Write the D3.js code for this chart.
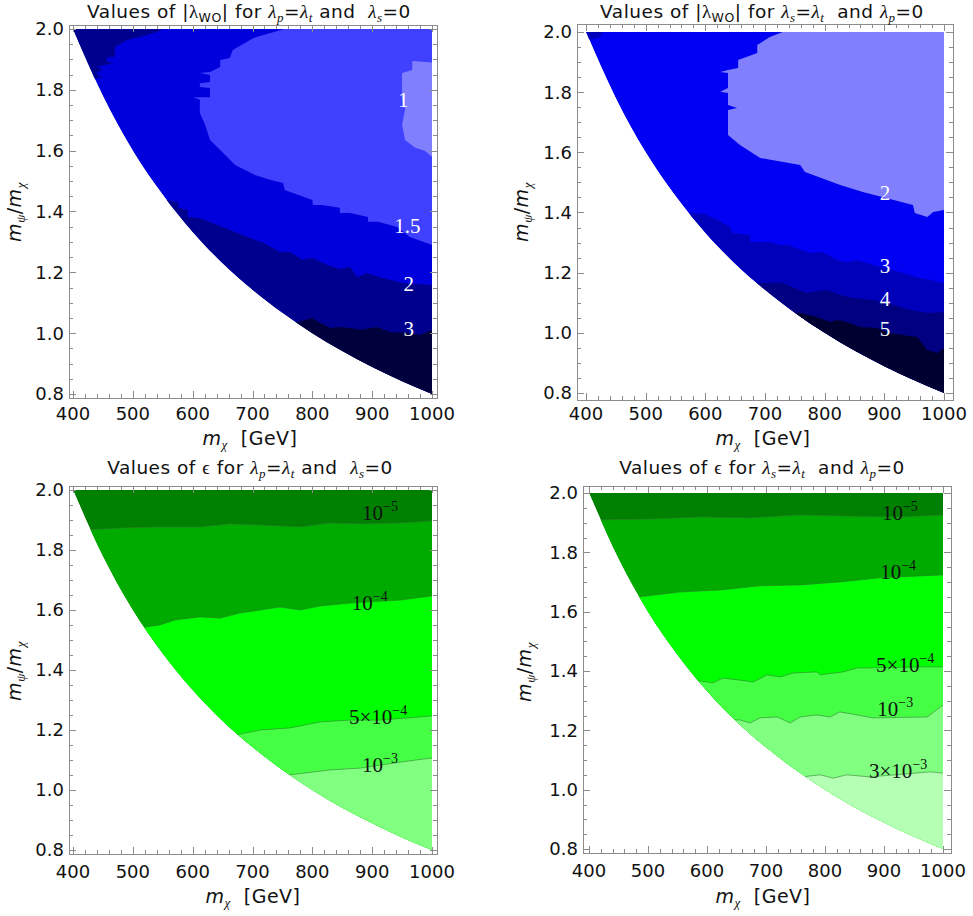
<!DOCTYPE html>
<html>
  <head>
    <meta charset="utf-8">
    <title>Coupling and epsilon contours</title>
    <script src="https://d3js.org/d3.v7.min.js"></script>
    <style>
      body { margin: 0; background: #fff; }
      svg { display: block; font-family: "DejaVu Sans", sans-serif; }
      .frame { fill: none; stroke: #8c8c8c; stroke-width: 1; }
      .tick { stroke: #8c8c8c; stroke-width: 1; }
      .tickLabel { font-size: 18px; fill: #111; }
      .title { font-size: 18.5px; fill: #111; letter-spacing: 0.5px; }
      .axisLabel { font-size: 19px; fill: #111; letter-spacing: 0.5px; }
      .level { font-family: "Liberation Serif", "DejaVu Serif", serif; font-size: 21px; }
      .contour { fill: none; stroke: #2f7a2f; stroke-opacity: 0.7; stroke-width: 0.8; }
    </style>
  </head>
  <body>
    <svg id="chart" width="973" height="916"></svg>
    <script>
      // axis values
      massTicks = [400, 500, 600, 700, 800, 900, 1000];
      ratioTicks = [0.8, 1.0, 1.2, 1.4, 1.6, 1.8, 2.0];
      // lower-left edge of the allowed region
      edgeMass = [400, 450, 500, 550, 600, 650, 700, 750, 800, 850, 900, 950, 1000];
      edgeRatio = [2.0, 1.78, 1.6, 1.455, 1.333, 1.23, 1.143, 1.067, 1.0, 0.941, 0.889, 0.842, 0.8];

      // |lambda_WO| contours, lambda_p = lambda_t (points are [m_chi, m_psi/m_chi])
      lamP_1 = [[1000,1.89],[967,1.895],[967,1.865],[950,1.855],[950,1.77],[955,1.735],[950,1.685],[955,1.635],[972,1.61],[988,1.6],[1000,1.58]];
      lamP_15 = [[753,2.0],[701,1.97],[667,1.931],[662,1.905],[646,1.898],[646,1.875],[629,1.859],[612,1.855],[629,1.849],[629,1.826],[612,1.822],[612,1.809],[629,1.806],[629,1.776],[601,1.776],[612,1.767],[612,1.724],[621,1.684],[629,1.635],[646,1.602],[671,1.553],[704,1.52],[729,1.504],[751,1.494],[754,1.471],[800,1.438],[801,1.421],[816,1.421],[846,1.412],[846,1.395],[863,1.395],[893,1.382],[893,1.366],[910,1.366],[942,1.349],[963,1.316],[1000,1.29]];
      lamP_2top = [[550,2.0],[540,1.99],[512,1.974],[490,1.964],[470,1.941],[470,1.908],[457,1.908],[457,1.892],[467,1.888],[440,1.875],[450,1.865],[440,1.859],[440,1.849],[450,1.842],[440,1.839],[430,1.832],[380,1.832]];
      lamP_2 = [[545,1.444],[557,1.438],[576,1.431],[576,1.412],[592,1.405],[592,1.382],[612,1.379],[654,1.346],[696,1.313],[718,1.297],[746,1.267],[763,1.267],[783,1.241],[801,1.247],[825,1.224],[846,1.211],[863,1.218],[875,1.185],[891,1.198],[918,1.181],[952,1.165],[1000,1.158]];
      lamP_3 = [[765,1.034],[776,1.037],[800,1.05],[813,1.034],[830,1.017],[843,1.02],[863,1.017],[880,1.011],[908,1.02],[930,1.004],[958,1.001],[980,0.994],[1000,1.011]];

      // |lambda_WO| contours, lambda_s = lambda_t
      lamS_2 = [[730,2.0],[708,1.983],[687,1.957],[687,1.93],[655,1.907],[655,1.88],[638,1.874],[625,1.867],[638,1.864],[638,1.814],[625,1.801],[638,1.797],[638,1.757],[653,1.747],[638,1.741],[638,1.707],[638,1.658],[658,1.624],[692,1.581],[759,1.558],[767,1.535],[826,1.491],[864,1.468],[948,1.425],[951,1.398],[972,1.385],[982,1.402],[1000,1.408]];
      lamS_3top = [[427,2.0],[424,1.983],[410,1.975],[395,1.975]];
      lamS_3 = [[575,1.4],[599,1.395],[621,1.375],[641,1.352],[645,1.332],[675,1.325],[675,1.302],[708,1.302],[725,1.292],[739,1.292],[775,1.265],[796,1.269],[821,1.242],[837,1.235],[854,1.242],[893,1.219],[931,1.199],[955,1.185],[1000,1.166]];
      lamS_4 = [[680,1.166],[730,1.166],[745,1.152],[770,1.132],[804,1.142],[826,1.126],[848,1.116],[881,1.109],[904,1.099],[943,1.076],[972,1.066],[1000,1.069]];
      lamS_5 = [[745,1.066],[759,1.066],[787,1.053],[809,1.036],[821,1.043],[837,1.036],[859,1.019],[888,1.016],[910,0.999],[955,0.986],[972,0.943],[988,0.933],[1000,0.949]];

      // epsilon contours, lambda_p = lambda_t
      epsP_1e5 = [[420,1.867],[479,1.873],[545,1.877],[612,1.877],[662,1.887],[713,1.883],[779,1.877],[830,1.89],[880,1.887],[947,1.89],[1000,1.897]];
      epsP_1e4 = [[510,1.54],[545,1.55],[571,1.567],[612,1.577],[646,1.573],[679,1.59],[713,1.6],[746,1.61],[779,1.6],[813,1.613],[863,1.623],[947,1.633],[1000,1.647]];
      epsP_5e4 = [[670,1.183],[713,1.2],[763,1.207],[813,1.227],[863,1.233],[913,1.233],[1000,1.247]];
      epsP_1e3 = [[760,1.05],[830,1.067],[880,1.073],[947,1.093],[1000,1.107]];

      // epsilon contours, lambda_s = lambda_t
      epsS_1e5 = [[410,1.909],[503,1.912],[588,1.919],[673,1.916],[758,1.926],[842,1.922],[927,1.919],[1000,1.926]];
      epsS_1e4 = [[480,1.649],[554,1.666],[622,1.673],[690,1.687],[758,1.69],[825,1.7],[893,1.714],[1000,1.724]];
      epsS_5e4 = [[575,1.37],[610,1.36],[627,1.376],[653,1.37],[678,1.363],[702,1.387],[724,1.38],[746,1.393],[786,1.397],[792,1.387],[831,1.397],[854,1.41],[978,1.414],[1000,1.414]];
      epsS_1e3 = [[640,1.235],[656,1.235],[673,1.225],[690,1.242],[719,1.245],[741,1.225],[758,1.245],[786,1.252],[809,1.245],[825,1.262],[854,1.252],[881,1.242],[973,1.245],[1000,1.285]];
      epsS_3e3 = [[760,1.043],[792,1.05],[814,1.039],[837,1.05],[876,1.043],[978,1.06],[1000,1.056]];

      edge = edgeMass.map(function(m, i) { return [m, edgeRatio[i]]; });

      sp = "\u00a0";

      // panel layout
      panels = [
        {
          id: "tl", xr: [73, 432], yr: [394, 29], frame: [69, 25, 437, 398], tickY: 420,
          title: [["Values of |", ""], ["λ", "s"], ["WO", "sub"], ["| for ", ""], ["λ", "i"], ["p", "isub"], ["=", ""], ["λ", "i"], ["t", "isub"], [" and" + sp + sp, ""], ["λ", "i"], ["s", "isub"], ["=0", ""]],
          titlePos: [249, 17.5], xLabelPos: [250, 445], yLabelPos: [21, 212],
          base: "#0000dc",
          bands: [
            [lamP_15, "above", "#4040ff"],
            [lamP_1, "above", "#8080ff"],
            [lamP_2top, "above", "#00008f"],
            [lamP_2, "below", "#00008f"],
            [lamP_3, "below", "#00003c"]
          ],
          labelColor: "#fff", lines: false,
          labels: [[[["1", ""]], 952, 1.745], [[["1.5", ""]], 959, 1.33], [[["2", ""]], 961, 1.14], [[["3", ""]], 961, 0.99]]
        },
        {
          id: "tr", xr: [586, 944], yr: [393, 32], frame: [577, 24, 953, 400], tickY: 420,
          title: [["Values of |", ""], ["λ", "s"], ["WO", "sub"], ["| for ", ""], ["λ", "i"], ["s", "isub"], ["=", ""], ["λ", "i"], ["t", "isub"], [sp + sp + "and ", ""], ["λ", "i"], ["p", "isub"], ["=0", ""]],
          titlePos: [762, 17.5], xLabelPos: [763, 445], yLabelPos: [528, 212],
          base: "#0000f2",
          bands: [
            [lamS_2, "above", "#8080ff"],
            [lamS_3top, "above", "#0000bb"],
            [lamS_3, "below", "#0000bb"],
            [lamS_4, "below", "#000080"],
            [lamS_5, "below", "#000030"]
          ],
          labelColor: "#fff", lines: false,
          labels: [[[["2", ""]], 901, 1.44], [[["3", ""]], 901, 1.2], [[["4", ""]], 901, 1.09], [[["5", ""]], 901, 0.99]]
        },
        {
          id: "bl", xr: [73, 432], yr: [850, 490], frame: [69, 486, 437, 854], tickY: 878,
          title: [["Values of ", ""], ["ϵ", "s"], [" for ", ""], ["λ", "i"], ["p", "isub"], ["=", ""], ["λ", "i"], ["t", "isub"], [" and" + sp + sp, ""], ["λ", "i"], ["s", "isub"], ["=0", ""]],
          titlePos: [250, 474], xLabelPos: [253, 903], yLabelPos: [21, 671],
          base: "#008000",
          bands: [
            [epsP_1e5, "below", "#00ab00"],
            [epsP_1e4, "below", "#00ff00"],
            [epsP_5e4, "below", "#45ff45"],
            [epsP_1e3, "below", "#80ff80"]
          ],
          labelColor: "#111", lines: true,
          labels: [[[["10", ""], ["−5", "sup"]], 913, 1.9], [[["10", ""], ["−4", "sup"]], 896, 1.6], [[["5×10", ""], ["−4", "sup"]], 910, 1.22], [[["10", ""], ["−3", "sup"]], 913, 1.06]]
        },
        {
          id: "br", xr: [589, 943], yr: [849, 493], frame: [583, 486, 951, 853], tickY: 877,
          title: [["Values of ", ""], ["ϵ", "s"], [" for ", ""], ["λ", "i"], ["s", "isub"], ["=", ""], ["λ", "i"], ["t", "isub"], [sp + sp + "and ", ""], ["λ", "i"], ["p", "isub"], ["=0", ""]],
          titlePos: [762, 474], xLabelPos: [763, 903], yLabelPos: [531, 672],
          base: "#008000",
          bands: [
            [epsS_1e5, "below", "#00ab00"],
            [epsS_1e4, "below", "#00ff00"],
            [epsS_5e4, "below", "#45ff45"],
            [epsS_1e3, "below", "#80ff80"],
            [epsS_3e3, "below", "#b4ffb4"]
          ],
          labelColor: "#111", lines: true,
          labels: [[[["10", ""], ["−5", "sup"]], 927, 1.91], [[["10", ""], ["−4", "sup"]], 924, 1.71], [[["5×10", ""], ["−4", "sup"]], 936, 1.395], [[["10", ""], ["−3", "sup"]], 919, 1.25], [[["3×10", ""], ["−3", "sup"]], 924, 1.04]]
        }
      ];

      svg = d3.select("#chart");

      panels.forEach(drawPanel);

      function richText(sel, parts) {
        let shift = 0;
        parts.forEach(function(p) {
          let kind = p[1];
          let target = (kind === "sub" || kind === "isub") ? 4 : kind === "sup" ? -9 : 0;
          let t = sel.append("tspan")
            .attr("dy", target - shift)
            .text(p[0]);
          shift = target;
          if (kind === "i" || kind === "isub" || kind === "m") t.style("font-style", "italic");
          if (kind === "i" || kind === "isub" || kind === "s") t.style("font-family", "'Liberation Serif', serif").style("font-size", kind === "isub" ? "13px" : "19px");
          if (kind === "sub") t.style("font-size", "12.5px");
          if (kind === "sup") t.style("font-size", "14px");
        });
      }

      function drawPanel(p) {
        let x = d3.scaleLinear().domain([400, 1000]).range(p.xr);
        let y = d3.scaleLinear().domain([0.8, 2.0]).range(p.yr);
        let g = svg.append("g").attr("id", p.id);
        let line = d3.line()
          .x(function(d) { return x(d[0]); })
          .y(function(d) { return y(d[1]); });
        let edgeLine = d3.line()
          .curve(d3.curveMonotoneX)
          .x(function(d) { return x(d[0]); })
          .y(function(d) { return y(d[1]); });
        let domainPath = edgeLine(edge) + "L" + x(1000) + "," + y(2.0) + "Z";

        g.append("clipPath")
            .attr("id", "clip-" + p.id)
          .append("path")
            .attr("d", domainPath);

        let area = g.append("g").attr("clip-path", "url(#clip-" + p.id + ")");
        area.append("path")
          .attr("d", domainPath)
          .attr("fill", p.base);

        // filled bands, each closed against the top or bottom of the plot
        area.selectAll(".band")
            .data(p.bands)
          .enter().append("path")
            .classed("band", true)
            .attr("fill", function(d) { return d[2]; })
            .attr("d", function(d) {
              let pts = d[0];
              let r = d[1] === "above" ? 2.0 : 0.7;
              let closed = pts.concat([[pts[pts.length - 1][0], r], [pts[0][0], r]]);
              return line(closed) + "Z";
            });

        if (p.lines) {
          area.selectAll(".contour")
              .data(p.bands)
            .enter().append("path")
              .classed("contour", true)
              .attr("d", function(d) { return line(d[0]); });
        }

        // contour labels
        g.selectAll(".level")
            .data(p.labels)
          .enter().append("text")
            .classed("level", true)
            .attr("x", function(d) { return x(d[1]); })
            .attr("y", function(d) { return y(d[2]); })
            .attr("dy", "0.33em")
            .attr("text-anchor", "middle")
            .attr("fill", p.labelColor)
            .each(function(d) { labelText(d3.select(this), d[0]); });

        // frame and ticks
        let f = p.frame;
        g.append("rect")
          .classed("frame", true)
          .attr("x", f[0] + 0.5)
          .attr("y", f[1] + 0.5)
          .attr("width", f[2] - f[0])
          .attr("height", f[3] - f[1]);

        let xMinor = d3.range(400, 1001, 20);
        let yMinor = d3.range(0.8, 2.001, 0.05);
        xMinor.forEach(function(v) {
          let len = massTicks.indexOf(v) >= 0 ? 7 : 4;
          let px = Math.round(x(v)) + 0.5;
          g.append("line").classed("tick", true).attr("x1", px).attr("x2", px).attr("y1", f[3]).attr("y2", f[3] - len);
          g.append("line").classed("tick", true).attr("x1", px).attr("x2", px).attr("y1", f[1]).attr("y2", f[1] + len);
        });
        yMinor.forEach(function(v) {
          let major = ratioTicks.some(function(t) { return Math.abs(t - v) < 1e-6; });
          let len = major ? 7 : 4;
          let py = Math.round(y(v)) + 0.5;
          g.append("line").classed("tick", true).attr("y1", py).attr("y2", py).attr("x1", f[0]).attr("x2", f[0] + len);
          g.append("line").classed("tick", true).attr("y1", py).attr("y2", py).attr("x1", f[2]).attr("x2", f[2] - len);
        });

        g.selectAll(".xLab")
            .data(massTicks)
          .enter().append("text")
            .classed("tickLabel", true)
            .attr("x", function(d) { return x(d); })
            .attr("y", p.tickY)
            .attr("text-anchor", "middle")
            .text(function(d) { return d; });
        g.selectAll(".yLab")
            .data(ratioTicks)
          .enter().append("text")
            .classed("tickLabel", true)
            .attr("x", f[0] - 5)
            .attr("y", function(d) { return y(d); })
            .attr("dy", "0.36em")
            .attr("text-anchor", "end")
            .text(function(d) { return d.toFixed(1); });

        // titles
        let title = g.append("text")
          .classed("title", true)
          .attr("x", p.titlePos[0])
          .attr("y", p.titlePos[1])
          .attr("text-anchor", "middle");
        richText(title, p.title);

        let xl = g.append("text")
          .classed("axisLabel", true)
          .attr("x", p.xLabelPos[0])
          .attr("y", p.xLabelPos[1])
          .attr("text-anchor", "middle");
        richText(xl, [["m", "m"], ["χ", "isub"], [sp + sp + "[GeV]", ""]]);

        let yl = g.append("text")
          .classed("axisLabel", true)
          .attr("transform", "translate(" + p.yLabelPos[0] + "," + p.yLabelPos[1] + ") rotate(-90)")
          .attr("dy", "0.3em")
          .attr("text-anchor", "middle");
        richText(yl, [["m", "m"], ["ψ", "isub"], ["/", ""], ["m", "m"], ["χ", "isub"]]);
      }

      function labelText(sel, parts) {
        let shift = 0;
        parts.forEach(function(q) {
          let target = q[1] === "sup" ? -9 : 0;
          sel.append("tspan")
            .attr("dy", target - shift)
            .style("font-size", q[1] === "sup" ? "14px" : null)
            .text(q[0]);
          shift = target;
        });
      }
    </script>
  </body>
</html>
